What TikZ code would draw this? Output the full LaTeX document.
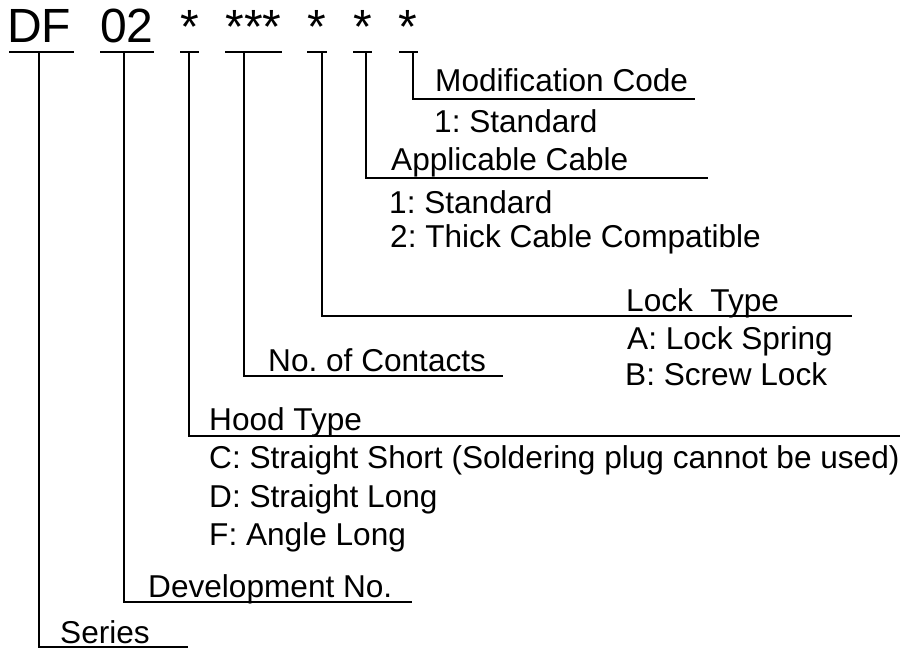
\documentclass[tikz,border=0pt]{standalone}
\usepackage{fontspec}
\setmainfont{Liberation Sans}
\frenchspacing
\begin{document}
\begin{tikzpicture}[x=1pt,y=-1pt,
  lbl/.style={anchor=base west,inner sep=0pt,font=\fontsize{31.6}{36}\selectfont},
  big/.style={anchor=base west,inner sep=0pt,font=\fontsize{48}{54}\selectfont},
  star/.style={anchor=base,inner sep=0pt,font=\fontsize{48}{54}\selectfont},
  ln/.style={line width=2.5pt}]
\useasboundingbox (0,0) rectangle (910,650);
% header
\node[big] (df) at (7,43) {DF};
\node[big] (n02) at (100,43) {02};
\node[star] (s1) at (189.5,44) {*};
\node[star] (s3) at (253.5,44) {***};
\node[star] (s4) at (317,44) {*};
\node[star] (s5) at (362.5,44) {*};
\node[star] (s6) at (408,44) {*};
% underlines
\coordinate (dfL) at (9,52);   \coordinate (dfR) at (74,52);
\coordinate (nL) at (100,52);  \coordinate (nR) at (154,52);
\coordinate (aL) at (180,52);  \coordinate (aR) at (199,52);
\coordinate (bL) at (225,52);  \coordinate (bR) at (282,52);
\coordinate (cL) at (307,52);  \coordinate (cR) at (327,52);
\coordinate (dL) at (353,52);  \coordinate (dR) at (372,52);
\coordinate (eL) at (399,52);  \coordinate (eR) at (418,52);
\foreach \p in {df,n,a,b,c,d,e} \draw[ln] (\p L) -- (\p R);
% branch tops
\coordinate (tdf) at (39,52);
\coordinate (tn) at (124,52);
\coordinate (ta) at (189,52);
\coordinate (tb) at (244,52);
\coordinate (tc) at (322,52);
\coordinate (td) at (366,52);
\coordinate (te) at (413,52);
% branch ends
\coordinate (edf) at (188,647);
\coordinate (en) at (412,602);
\coordinate (ea) at (900,436);
\coordinate (eb) at (503,376);
\coordinate (ec) at (852,316);
\coordinate (ed) at (708,178);
\coordinate (ee) at (695,99);
\foreach \p in {df,n,a,b,c,d,e} \draw[ln] (t\p) |- (e\p);
% labels
\node[lbl] (modt) at (435,92) {Modification Code};
\node[lbl] (mod1) at (434,132) {1: Standard};
\node[lbl] (cabt) at (391,171) {Applicable Cable};
\node[lbl] (cab1) at (389,213) {1: Standard};
\node[lbl] (cab2) at (390,247) {2: Thick Cable Compatible};
\node[lbl] (lockt) at (626,311) {Lock\ \ Type};
\node[lbl] (locka) at (627,349) {A: Lock Spring};
\node[lbl] (lockb) at (625,385) {B: Screw Lock};
\node[lbl] (cont) at (268,371) {No. of Contacts};
\node[lbl] (hoodt) at (209,430) {Hood Type};
\node[lbl] (hoodc) at (209,468) {C: Straight Short (Soldering plug cannot be used)};
\node[lbl] (hoodd) at (209,507) {D: Straight Long};
\node[lbl] (hoodf) at (209,545) {F: Angle Long};
\node[lbl] (dev) at (148,597) {Development No.};
\node[lbl] (ser) at (60,643) {Series};
\end{tikzpicture}
\end{document}
